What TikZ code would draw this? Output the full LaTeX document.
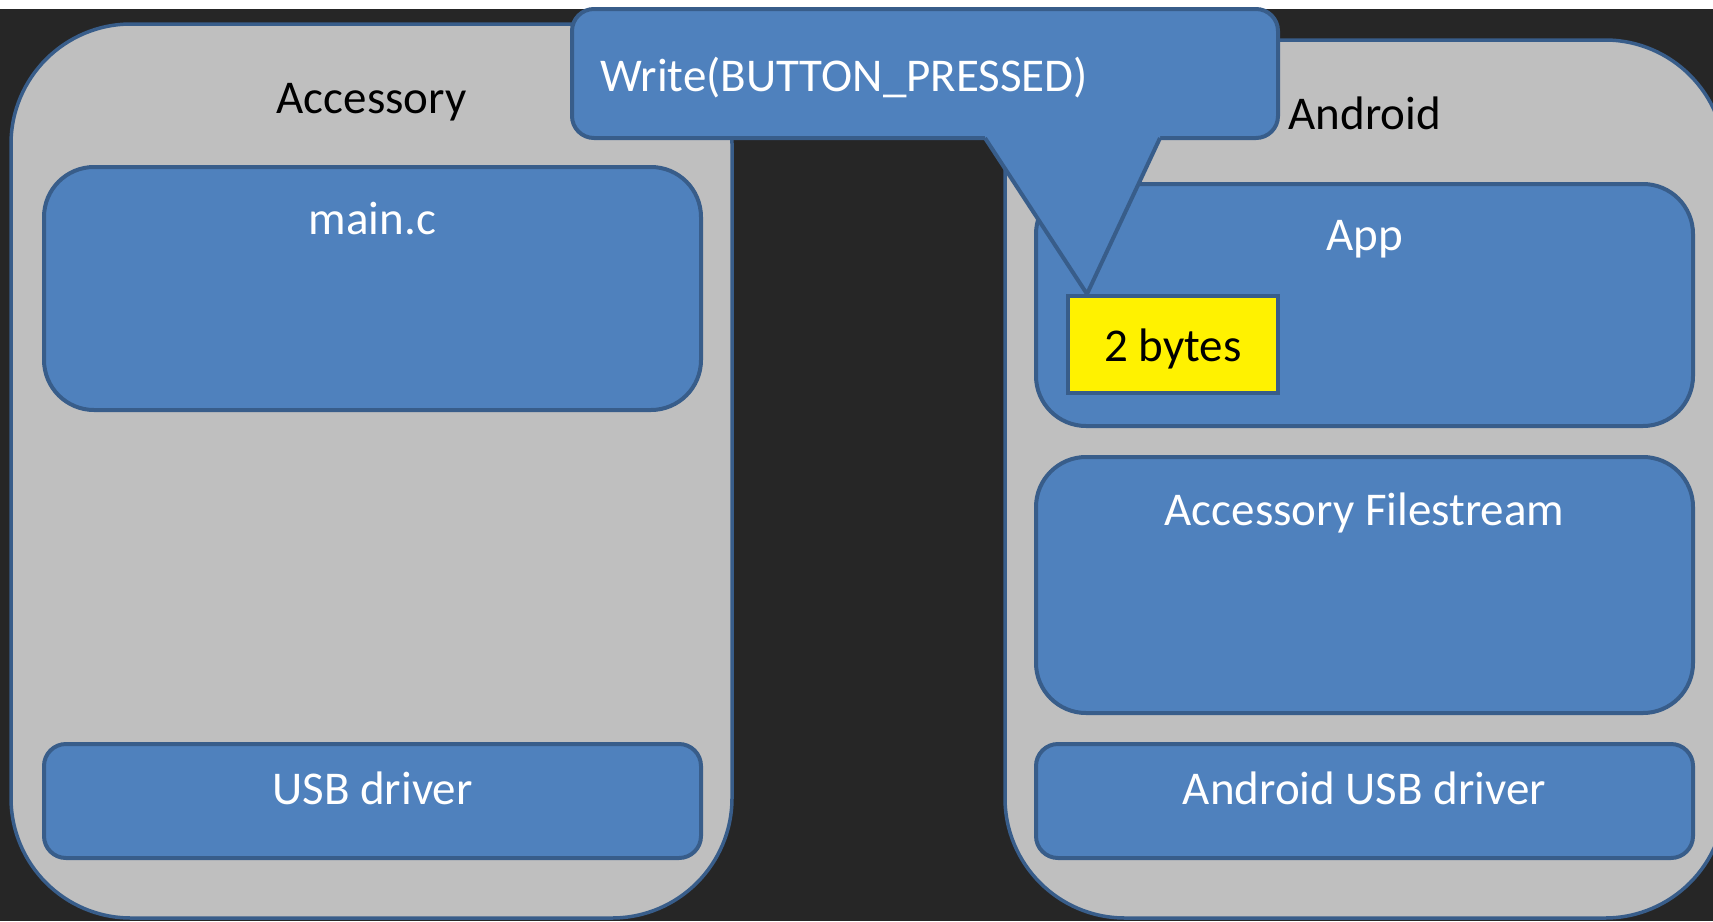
\documentclass[tikz,border=0pt]{standalone}
\usepackage{fontspec}
\setmainfont{Carlito}
\usetikzlibrary{positioning}
\definecolor{bgdark}{HTML}{262626}
\definecolor{devgray}{HTML}{BFBFBF}
\definecolor{boxblue}{HTML}{4F81BD}
\definecolor{edgeblue}{HTML}{385D8A}
\tikzset{
  dev/.style={draw=edgeblue, line width=3.5pt, fill=devgray, rounded corners=120pt, inner sep=0pt},
  layer/.style={draw=edgeblue, line width=4pt, fill=boxblue, inner sep=0pt},
  txt/.style={font=\fontsize{47}{56}\selectfont, inner sep=0pt, anchor=base},
  wtxt/.style={txt, text=white},
}
\begin{document}
\begin{tikzpicture}[x=1pt,y=-1pt]
    \useasboundingbox (0,0) rectangle (1713,921);
    \fill [white] (0,0) rectangle (1713,9);
    \fill [bgdark] (0,9) rectangle (1713,921);
    % the two devices
    \node [dev, minimum width=721pt, minimum height=894pt] (acc) at (371.5,471) {};
    \node [dev, minimum width=720pt, minimum height=878pt] (andr) at (1365,479) {};
    \node [txt, below=91pt of acc.north, anchor=base] (acclbl) {Accessory};
    \node [txt, below=91pt of andr.north, anchor=base] (andrlbl) {Android};
    % layers
    \node [layer, rounded corners=50pt, minimum width=657pt, minimum height=243pt] (mainc) at (372.5,288.5) {};
    \node [layer, rounded corners=22pt, minimum width=657pt, minimum height=114pt] (usbdrv) at (372.5,801) {};
    \node [layer, rounded corners=50pt, minimum width=657pt, minimum height=242pt] (app) at (1364.5,305) {};
    \node [layer, rounded corners=50pt, minimum width=657pt, minimum height=256pt] (fstream) at (1364.5,585) {};
    \node [layer, rounded corners=22pt, minimum width=657pt, minimum height=114pt] (andrusb) at (1364.5,801) {};
    \node [wtxt, below=69pt of mainc.north, anchor=base] (mainclbl) {main.c};
    \node [wtxt, below=62pt of usbdrv.north, anchor=base] (usblbl) {USB driver};
    \node [wtxt, below=68pt of app.north, anchor=base] (applbl) {App};
    \node [wtxt, below=70pt of fstream.north, anchor=base] (fslbl) {Accessory Filestream};
    \node [wtxt, below=62pt of andrusb.north, anchor=base] (andrusblbl) {Android USB driver};
    % callout with the message
    \node [layer, rounded corners=22pt, minimum width=706pt, minimum height=129pt] (msg) at (925,73.5) {};
    \node [wtxt, anchor=base west] (msgtxt) at (600,91) {Write(BUTTON\_PRESSED)};
    \coordinate (pl) at (985,138);
    \coordinate (pr) at (1160,138);
    \coordinate (tip) at (1087,294);
    \fill [boxblue] (985,130) -- (pl) -- (tip) -- (pr) -- (1160,130) -- cycle;
    \draw [edgeblue, line width=4pt, line join=round] (pl) -- (tip) -- (pr);
    \node [layer, fill=yellow, minimum width=210pt, minimum height=97pt] (bytes) at (1173,344.5) {};
    \node [txt, below=67pt of bytes.north, anchor=base] (byteslbl) {2 bytes};
  \end{tikzpicture}
\end{document}
